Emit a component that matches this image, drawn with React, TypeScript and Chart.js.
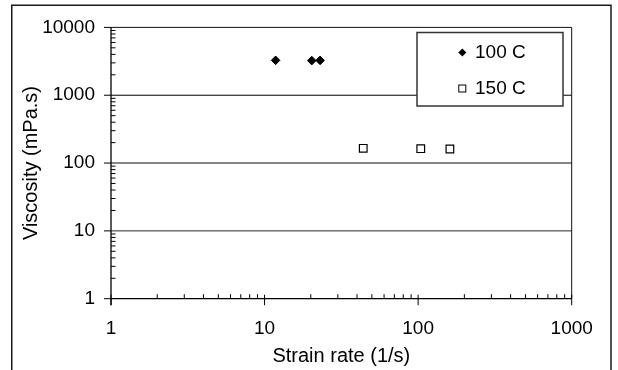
import React, { useEffect, useRef } from 'react';
import { Chart, registerables } from 'chart.js';

Chart.register(...registerables);

const seriesNames = ['100 C', '150 C'];
const strainRate100 = [11.8, 20.3, 23.0];
const viscosity100 = [3270, 3240, 3260];
const strainRate150 = [43.9, 104, 161];
const viscosity150 = [165, 163, 161];
const xTickValues = [1, 10, 100, 1000];
const yTickValues = [1, 10, 100, 1000, 10000];
const xTitle = 'Strain rate (1/s)';
const yTitle = 'Viscosity (mPa.s)';

const FONT = '"Liberation Sans", Arial, Helvetica, sans-serif';
const FONT_SIZE = 19;
const TITLE_SIZE = 20;

function seg(ctx: CanvasRenderingContext2D, x1: number, y1: number, x2: number, y2: number) {
  ctx.beginPath();
  ctx.moveTo(x1, y1);
  ctx.lineTo(x2, y2);
  ctx.stroke();
}

function minorValues(values: number[]) {
  const out: { v: number; major: boolean }[] = [];
  for (let i = 0; i < values.length - 1; i++) {
    for (let m = 1; m < 10; m++) out.push({ v: values[i] * m, major: m === 1 });
  }
  out.push({ v: values[values.length - 1], major: true });
  return out;
}

const axesPlugin = {
  id: 'axesPlugin',
  beforeDraw(chart: any) {
    const { ctx, width, height } = chart;
    ctx.save();
    ctx.fillStyle = '#ffffff';
    ctx.fillRect(0, 0, width, height);
    ctx.strokeStyle = '#1a1a1a';
    ctx.lineWidth = 1.5;
    ctx.strokeRect(11.75, 5.25, 599.25, height + 20);
    ctx.restore();
  },
  beforeDatasetsDraw(chart: any) {
    const { ctx, chartArea: a, scales } = chart;
    const xs = scales.x;
    const ys = scales.y;
    ctx.save();
    yTickValues.slice(1, -1).forEach((v) => {
      const py = ys.getPixelForValue(v);
      if (v === 100) {
        ctx.strokeStyle = '#858585';
        ctx.lineWidth = 2;
      } else {
        ctx.strokeStyle = v === 10 ? '#2a2a2a' : '#000';
        ctx.lineWidth = 1;
      }
      seg(ctx, a.left, py, a.right, py);
    });
    ctx.strokeStyle = '#111';
    ctx.lineWidth = 1;
    seg(ctx, a.left, a.top, a.right, a.top);
    seg(ctx, a.right, a.top, a.right, a.bottom);
    ctx.strokeStyle = '#000';
    ctx.lineWidth = 1;
    minorValues(yTickValues).forEach(({ v, major }) => {
      const py = ys.getPixelForValue(v);
      if (major) seg(ctx, a.left - 7, py, a.left, py);
      else seg(ctx, a.left, py, a.left + 4.5, py);
    });
    minorValues(xTickValues).forEach(({ v, major }) => {
      const px = xs.getPixelForValue(v);
      if (major) seg(ctx, px, a.bottom - 4, px, a.bottom + 6.5);
      else seg(ctx, px, a.bottom, px, a.bottom - 4.5);
    });
    ctx.lineWidth = 1.3;
    seg(ctx, a.left, a.top, a.left, a.bottom + 6.5);
    seg(ctx, a.left, a.bottom, a.right, a.bottom);
    ctx.restore();
  },
  afterDraw(chart: any) {
    const { ctx } = chart;
    const bx = 417;
    const by = 32.5;
    const bw = 146;
    const bh = 73.5;
    ctx.save();
    ctx.fillStyle = '#fff';
    ctx.fillRect(bx, by, bw, bh);
    ctx.strokeStyle = '#333';
    ctx.lineWidth = 1.5;
    ctx.strokeRect(bx, by, bw, bh);
    ctx.font = `${FONT_SIZE}px ${FONT}`;
    ctx.textBaseline = 'alphabetic';
    ctx.textAlign = 'left';
    chart.data.datasets.forEach((ds: any, i: number) => {
      const cy = by + 20 + i * 36;
      const cx = 462.3;
      if (ds.pointStyle === 'rectRot') {
        ctx.fillStyle = '#000';
        ctx.beginPath();
        ctx.moveTo(cx, cy - 4);
        ctx.lineTo(cx + 4, cy);
        ctx.lineTo(cx, cy + 4);
        ctx.lineTo(cx - 4, cy);
        ctx.closePath();
        ctx.fill();
      } else {
        ctx.fillStyle = '#fff';
        ctx.strokeStyle = '#000';
        ctx.lineWidth = 1;
        ctx.fillRect(cx - 3.5, cy - 3.5, 7, 7);
        ctx.strokeRect(cx - 3.5, cy - 3.5, 7, 7);
      }
      ctx.fillStyle = '#000';
      ctx.fillText(ds.label, 475, cy + 5.2);
    });
    ctx.restore();
  },
};

export default function App() {
  const ref = useRef<HTMLCanvasElement | null>(null);
  useEffect(() => {
    if (!ref.current) return;
    const font = { family: FONT, size: FONT_SIZE };
    const titleFont = { family: FONT, size: TITLE_SIZE };
    const chart = new Chart(ref.current, {
      type: 'scatter',
      data: {
        datasets: [
          {
            label: seriesNames[0],
            data: strainRate100.map((x, i) => ({ x, y: viscosity100[i] })),
            pointStyle: 'rectRot',
            pointRadius: 4.3,
            pointHoverRadius: 4.3,
            backgroundColor: '#000',
            borderColor: '#000',
            borderWidth: 1,
            showLine: false,
          },
          {
            label: seriesNames[1],
            data: strainRate150.map((x, i) => ({ x, y: viscosity150[i] })),
            pointStyle: 'rect',
            pointRadius: 5.4,
            pointHoverRadius: 5.4,
            backgroundColor: '#fff',
            borderColor: '#000',
            borderWidth: 1.2,
            showLine: false,
          },
        ],
      },
      options: {
        responsive: false,
        animation: false,
        events: [],
        layout: { padding: { left: 0, top: 26, right: 46.3, bottom: 0 } },
        plugins: { legend: { display: false }, tooltip: { enabled: false } },
        scales: {
          x: {
            type: 'logarithmic',
            position: 'bottom',
            min: 1,
            max: 1000,
            grid: { display: false, drawTicks: false },
            border: { display: false },
            afterBuildTicks: (s: any) => {
              s.ticks = xTickValues.map((v) => ({ value: v }));
            },
            afterFit: (s: any) => {
              s.height = 71.3;
            },
            ticks: {
              font,
              color: '#000',
              padding: 19,
              maxRotation: 0,
              autoSkip: false,
              callback: (v: any) => String(v),
            },
            title: {
              display: true,
              text: xTitle,
              font: titleFont,
              color: '#000',
              padding: { top: 0, bottom: 1.5 },
            },
          },
          y: {
            type: 'logarithmic',
            position: 'left',
            min: 1,
            max: 10000,
            grid: { display: false, drawTicks: false },
            border: { display: false },
            afterBuildTicks: (s: any) => {
              s.ticks = yTickValues.map((v) => ({ value: v }));
            },
            afterFit: (s: any) => {
              s.width = 111;
            },
            ticks: {
              font,
              color: '#000',
              padding: 16,
              autoSkip: false,
              callback: (v: any) => String(v),
            },
            title: {
              display: true,
              text: yTitle,
              font: titleFont,
              color: '#000',
              padding: { top: 19, bottom: 0 },
            },
          },
        },
      },
      plugins: [axesPlugin],
    } as any);
    return () => chart.destroy();
  }, []);
  return (
    <div style={{ position: 'fixed', left: 0, top: 0, width: 618, height: 370, background: '#fff' }}>
      <canvas ref={ref} width={618} height={370} style={{ display: 'block', width: 618, height: 370 }} />
    </div>
  );
}
